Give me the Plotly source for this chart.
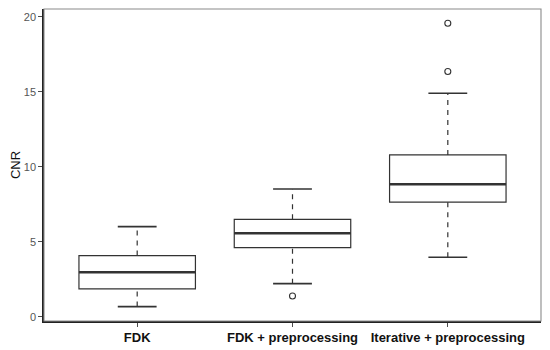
import plotly.graph_objects as go

categories = ["FDK", "FDK + preprocessing", "Iterative + preprocessing"]
lower_whisker = [0.69, 2.22, 3.98]
q1 = [1.87, 4.62, 7.65]
median = [2.98, 5.58, 8.85]
q3 = [4.09, 6.51, 10.80]
upper_whisker = [6.02, 8.53, 14.91]
outlier_cat = [1, 2, 2]
outlier_val = [1.40, 16.36, 19.58]

y_ticks = [0, 5, 10, 15, 20]

BOX_W = 0.75
CAP_W = 0.25
LINE_C = "#333333"

xs = list(range(len(categories)))
fig = go.Figure()

# dashed whiskers
for i in xs:
    fig.add_trace(go.Scatter(
        x=[i, i, None, i, i],
        y=[lower_whisker[i], q1[i], None, q3[i], upper_whisker[i]],
        mode="lines", line=dict(color=LINE_C, width=1.2, dash="5px,5px"),
        hoverinfo="skip", showlegend=False))
    # caps
    fig.add_trace(go.Scatter(
        x=[i - CAP_W / 2, i + CAP_W / 2, None, i - CAP_W / 2, i + CAP_W / 2],
        y=[lower_whisker[i], lower_whisker[i], None, upper_whisker[i], upper_whisker[i]],
        mode="lines", line=dict(color=LINE_C, width=1.6),
        hoverinfo="skip", showlegend=False))

# boxes
fig.add_trace(go.Box(
    x=xs, q1=q1, median=median, q3=q3,
    lowerfence=q1, upperfence=q3,
    width=BOX_W, fillcolor="white",
    line=dict(color=LINE_C, width=1.2),
    boxpoints=False, showlegend=False, hoverinfo="skip"))

# thick median lines
for i in xs:
    fig.add_trace(go.Scatter(
        x=[i - BOX_W / 2, i + BOX_W / 2], y=[median[i], median[i]],
        mode="lines", line=dict(color=LINE_C, width=2.4),
        hoverinfo="skip", showlegend=False))

# outliers
fig.add_trace(go.Scatter(
    x=outlier_cat, y=outlier_val, mode="markers",
    marker=dict(symbol="circle-open", size=6, color=LINE_C, line=dict(width=1.1)),
    hoverinfo="skip", showlegend=False))

# page body has an 8px default margin, so the figure is sized to fit the window
fig.update_layout(
    width=542, height=342,
    margin=dict(l=36, r=9, t=1, b=29),
    plot_bgcolor="white", paper_bgcolor="white",
    font=dict(family="Liberation Sans, Arial, sans-serif"),
    shapes=[dict(type="rect", xref="paper", yref="paper", x0=0, y0=0, x1=1, y1=1,
                 line=dict(color="#8a8a8a", width=1.1), layer="above")],
)
fig.update_xaxes(
    range=[-0.6, 2.6], tickvals=xs, ticktext=[f"<b>{c}</b>" for c in categories],
    showgrid=False, zeroline=False, showline=True, linecolor="#222222", linewidth=1.5,
    ticks="outside", ticklen=4, tickcolor="#4d4d4d", tickwidth=1,
    tickfont=dict(size=13, color="#111111"), automargin=False)
fig.update_yaxes(
    range=[-0.27, 20.53], tickvals=y_ticks, ticktext=[str(v) for v in y_ticks],
    showgrid=False, zeroline=False, showline=True, linecolor="#222222", linewidth=1.5,
    ticks="outside", ticklen=4, tickcolor="#4d4d4d", tickwidth=1,
    tickfont=dict(size=11, color="#555555"), automargin=False,
    title=dict(text="CNR", font=dict(size=13, color="#111111"), standoff=7))

fig.write_html("out.html")
